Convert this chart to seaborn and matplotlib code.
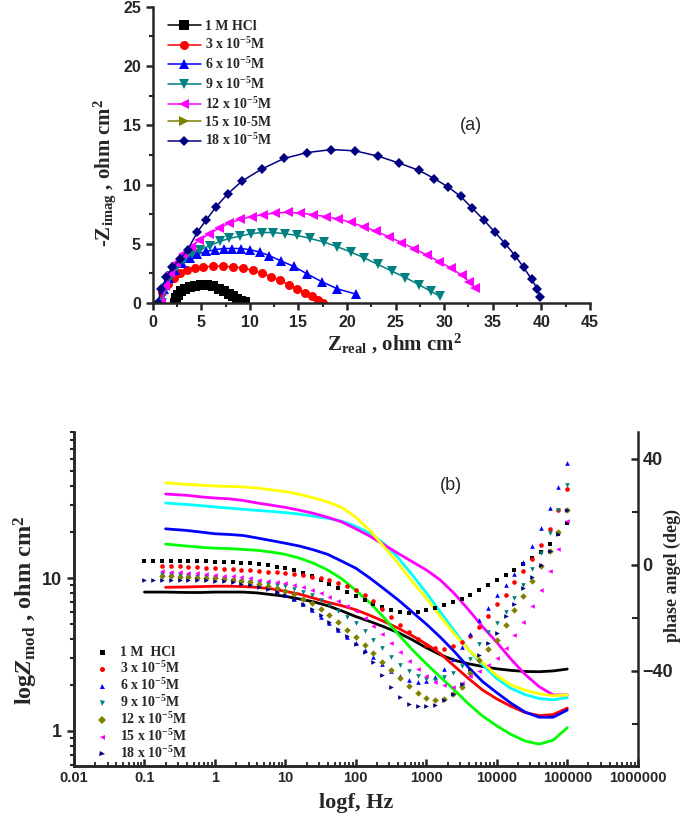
import matplotlib
matplotlib.use('Agg')
import matplotlib.pyplot as plt
import numpy as np
import pandas as pd
import seaborn as sns
from matplotlib.lines import Line2D
from matplotlib.ticker import MultipleLocator, FixedLocator, NullFormatter, LogLocator

nan = np.nan

# ---------- (a) Nyquist data (Zreal, -Zimag in ohm cm2) ----------
nyq_x_hcl = [2.3, 2.4, 2.6, 2.9, 3.3, 3.8, 4.4, 5.0, 5.6, 6.2, 6.8, 7.3, 7.8, 8.3, 8.7, 9.1, 9.5]
nyq_y_hcl = [0.0, 0.4, 0.7, 1.0, 1.2, 1.35, 1.45, 1.5, 1.48, 1.4, 1.2, 1.0, 0.8, 0.55, 0.35, 0.2, 0.08]

nyq_x_3 = [0.5, 1.0, 1.6, 2.2, 2.8, 3.5, 4.3, 5.2, 6.2, 7.2, 8.3, 9.3, 10.3, 11.3, 12.2, 13.1, 14.0, 14.9, 15.7, 16.4, 17.0, 17.5]
nyq_y_3 = [0.0, 0.9, 1.6, 2.1, 2.5, 2.75, 2.95, 3.05, 3.1, 3.1, 3.05, 2.95, 2.75, 2.5, 2.2, 1.9, 1.55, 1.2, 0.85, 0.55, 0.25, 0.0]

nyq_x_6 = [0.8, 1.2, 1.7, 2.3, 3.0, 3.8, 4.6, 5.5, 6.4, 7.3, 8.2, 9.1, 10.0, 11.0, 12.0, 13.2, 14.5, 15.9, 17.4, 19.0, 20.9]
nyq_y_6 = [0.0, 1.2, 2.1, 2.8, 3.4, 3.8, 4.1, 4.35, 4.5, 4.6, 4.6, 4.6, 4.5, 4.3, 4.0, 3.55, 3.1, 2.45, 1.8, 1.2, 0.75]

nyq_x_9 = [1.0, 1.4, 1.9, 2.5, 3.2, 4.0, 4.9, 5.9, 6.9, 7.9, 9.0, 10.1, 11.2, 12.4, 13.6, 14.9, 16.2, 17.6, 19.0, 20.4, 21.8, 23.2, 24.6, 26.0, 27.4, 28.6, 29.6]
nyq_y_9 = [0.0, 1.3, 2.3, 3.0, 3.6, 4.1, 4.5, 4.85, 5.2, 5.45, 5.65, 5.85, 5.95, 5.95, 5.85, 5.7, 5.45, 5.15, 4.75, 4.3, 3.8, 3.25, 2.7, 2.15, 1.55, 1.0, 0.55]

nyq_x_12 = [0.9, 1.3, 1.8, 2.4, 3.1, 3.9, 4.8, 5.8, 6.8, 7.9, 9.0, 10.2, 11.4, 12.6, 13.9, 15.2, 16.5, 17.8, 19.1, 20.4, 21.7, 23.0, 24.3, 25.6, 26.9, 28.2, 29.5, 30.7, 31.8, 32.6, 33.2]
nyq_y_12 = [0.0, 1.4, 2.5, 3.4, 4.1, 4.7, 5.3, 5.85, 6.3, 6.75, 7.05, 7.3, 7.45, 7.6, 7.65, 7.6, 7.45, 7.3, 7.1, 6.8, 6.45, 6.05, 5.6, 5.1, 4.6, 4.05, 3.5, 2.95, 2.35, 1.8, 1.25]

nyq_x_15 = []
nyq_y_15 = []

nyq_x_18 = [0.5, 0.9, 1.4, 2.0, 2.8, 3.6, 4.6, 5.5, 6.5, 7.7, 9.2, 11.2, 13.5, 15.9, 18.4, 20.8, 23.2, 25.4, 27.4, 29.0, 30.4, 31.7, 32.9, 34.1, 35.2, 36.3, 37.3, 38.2, 39.0, 39.6, 39.9]
nyq_y_18 = [0.0, 1.2, 2.2, 3.0, 3.7, 4.5, 6.0, 7.0, 8.1, 9.2, 10.3, 11.3, 12.2, 12.7, 12.95, 12.85, 12.4, 11.8, 11.2, 10.5, 9.8, 9.0, 8.0, 7.0, 6.0, 5.0, 4.0, 3.0, 2.0, 1.2, 0.5]

labels_a = ["1 M HCl", "3 x 10$^{-5}$M", "6 x 10$^{-5}$M", "9 x 10$^{-5}$M",
            "12 x 10$^{-5}$M", "15 x 10-5M", "18 x 10$^{-5}$M"]
labels_b = ["1 M  HCl", "3 x 10$^{-5}$M", "6 x 10$^{-5}$M", "9 x 10$^{-5}$M",
            "12 x 10$^{-5}$M", "15 x 10$^{-5}$M", "18 x 10$^{-5}$M"]

# ---------- (b) Bode data ----------
zmod_logf = [-1.0, -0.85, -0.7, -0.4, -0.2, 0.0, 0.2, 0.4, 0.6, 0.8, 1.0, 1.2, 1.4, 1.6, 1.8, 2.0,
             2.2, 2.4, 2.6, 2.8, 3.0, 3.2, 3.4, 3.6, 3.8, 4.0, 4.2, 4.4, 4.6, 4.8, 5.0]
zmod_black = [8.1, 8.1, 8.1, 8.05, 8.05, 8.1, 8.1, 8.1, 8.0, 7.8, 7.6, 7.3, 7.0, 6.6, 6.1, 5.6,
              5.2, 4.8, 4.4, 3.95, 3.5, 3.15, 2.9, 2.75, 2.64, 2.55, 2.49, 2.45, 2.44, 2.47, 2.54]
zmod_red = [nan, nan, 8.7, 8.75, 8.8, 8.85, 8.85, 8.8, 8.7, 8.5, 8.2, 7.85, 7.4, 6.95, 6.6, 6.2,
            5.7, 5.2, 4.7, 4.2, 3.7, 3.2, 2.65, 2.2, 1.85, 1.62, 1.45, 1.32, 1.26, 1.28, 1.41]
zmod_blue = [nan, nan, 21.0, 20.5, 20.0, 19.5, 19.3, 19.0, 18.3, 17.6, 16.9, 16.2, 15.3, 14.3, 12.9, 11.6,
             10.0, 8.5, 7.2, 6.0, 5.0, 4.1, 3.3, 2.6, 2.1, 1.78, 1.52, 1.33, 1.23, 1.23, 1.37]
zmod_green = [nan, nan, 16.7, 16.2, 15.9, 15.7, 15.6, 15.4, 15.2, 14.8, 14.3, 13.5, 12.5, 11.3, 9.9, 8.3,
              6.9, 5.5, 4.3, 3.4, 2.75, 2.25, 1.85, 1.5, 1.25, 1.08, 0.95, 0.86, 0.82, 0.87, 1.05]
zmod_cyan = [nan, nan, 31.0, 30.3, 29.8, 29.2, 28.7, 28.2, 27.7, 27.3, 26.8, 26.2, 25.4, 24.6, 23.6, 21.8,
             19.6, 16.8, 13.6, 10.5, 8.0, 6.0, 4.5, 3.4, 2.7, 2.2, 1.9, 1.73, 1.63, 1.6, 1.65]
zmod_magenta = [nan, nan, 35.5, 34.8, 34.0, 33.4, 33.0, 32.2, 31.0, 30.0, 29.0, 27.8, 26.5, 25.0, 23.3, 21.0,
                18.8, 16.5, 14.5, 12.8, 11.3, 9.7, 7.9, 6.2, 4.8, 3.8, 2.95, 2.35, 1.95, 1.72, 1.72]
zmod_yellow = [nan, nan, 42.0, 41.0, 40.5, 40.0, 39.8, 39.5, 38.8, 37.8, 36.8, 35.3, 33.5, 31.5, 29.0, 25.0,
               20.5, 16.0, 12.5, 9.5, 7.4, 5.6, 4.3, 3.4, 2.8, 2.3, 2.0, 1.85, 1.75, 1.7, 1.72]

phase_logf = [-1.0, -0.875, -0.75, -0.625, -0.5, -0.375, -0.25, -0.125, 0.0, 0.125, 0.25, 0.375, 0.5,
              0.625, 0.75, 0.875, 1.0, 1.125, 1.25, 1.375, 1.5, 1.625, 1.75, 1.875, 2.0, 2.125, 2.25,
              2.375, 2.5, 2.625, 2.75, 2.875, 3.0, 3.125, 3.25, 3.375, 3.5, 3.625, 3.75, 3.875, 4.0,
              4.125, 4.25, 4.375, 4.5, 4.625, 4.75, 4.875, 5.0]
phase_hcl = [1.5, 1.5, 1.5, 1.4, 1.4, 1.3, 1.3, 1.2, 1.1, 1.0, 0.9, 0.7, 0.5, 0.2, -0.2, -0.7, -1.3,
             -2.1, -3.1, -4.3, -5.7, -7.2, -8.8, -10.4, -12.0, -13.4, -14.8, -16.0, -17.0, -17.8, -18.2,
             -18.0, -17.3, -16.4, -15.3, -14.2, -13.0, -11.5, -9.6, -7.7, -5.8, -4.0, -2.0, 0.2, 2.5,
             4.9, 7.9, 11.5, 15.8]
phase_3 = [nan, nan, -0.4, -0.5, -0.6, -0.8, -0.9, -1.1, -1.3, -1.5, -1.7, -2.0, -2.2, -2.5, -2.7, -2.9,
           -3.1, -3.5, -4.0, -4.5, -5.1, -5.9, -6.9, -8.0, -9.4, -11.3, -13.8, -16.6, -19.7, -22.6, -25.5,
           -28.2, -30.3, -31.6, -32.0, -30.6, -29.2, -27.0, -23.5, -19.2, -15.0, -11.3, -6.5, -2.5, 2.0,
           7.5, 13.5, 20.8, 28.7]
phase_6 = [nan, nan, -3.1, -3.3, -3.5, -3.7, -3.9, -4.1, -4.4, -4.8, -5.3, -5.9, -6.6, -7.5, -8.6, -9.9,
           -11.3, -13.0, -15.0, -17.2, -19.6, -22.2, -24.8, -27.3, -29.6, -32.2, -35.0, -37.6, -40.0, -42.0,
           -43.5, -44.3, -44.0, -42.5, -39.5, -35.5, -31.0, -26.0, -21.0, -16.5, -11.5, -7.5, -3.5, 1.0,
           7.0, 13.8, 21.5, 29.5, 38.4]
phase_9 = [nan, nan, -3.4, -3.6, -3.9, -4.2, -4.5, -4.8, -5.0, -5.3, -5.6, -6.0, -6.4, -6.9, -7.4, -7.8,
           -8.2, -9.0, -10.2, -11.6, -13.3, -15.3, -17.5, -19.8, -22.0, -25.0, -28.3, -31.6, -34.8, -37.8,
           -40.3, -42.0, -43.2, -43.4, -42.5, -40.8, -38.3, -35.5, -30.0, -25.5, -22.0, -18.0, -12.5, -7.5,
           -1.6, 4.5, 12.0, 20.5, 30.0]
phase_12 = [nan, nan, -4.2, -4.4, -4.6, -4.8, -5.0, -5.1, -5.2, -5.4, -5.7, -6.1, -6.6, -7.2, -7.9, -8.8,
            -9.8, -11.2, -12.8, -14.6, -16.7, -19.0, -21.7, -24.5, -27.3, -30.3, -33.5, -36.7, -39.7, -42.6,
            -45.8, -48.6, -50.3, -51.0, -50.6, -48.8, -46.2, -41.0, -36.0, -32.0, -28.3, -22.8, -17.0,
            -11.7, -6.3, -0.6, 5.0, 12.5, 20.5]
phase_15 = [nan, nan, -2.5, -2.7, -2.9, -3.1, -3.3, -3.5, -3.8, -4.1, -4.4, -4.8, -5.2, -5.6, -6.0, -6.5,
            -7.0, -7.7, -8.5, -9.5, -10.7, -12.2, -13.8, -15.6, -17.5, -20.0, -23.0, -26.2, -29.6, -33.0,
            -36.3, -39.3, -42.0, -44.2, -45.6, -46.0, -44.5, -42.0, -40.0, -38.0, -35.2, -31.5, -26.5,
            -21.5, -15.5, -9.5, -2.5, 6.0, 16.4]
phase_18 = [-5.9, -5.8, -5.7, -5.6, -5.6, -5.6, -5.7, -5.8, -6.0, -6.3, -6.7, -7.2, -7.8, -8.5, -9.3,
            -10.3, -11.5, -13.0, -14.8, -16.8, -19.0, -21.5, -24.2, -27.0, -29.8, -33.0, -36.8, -41.5,
            -46.0, -50.0, -52.5, -53.5, -53.5, -52.8, -51.0, -48.8, -45.0, -39.5, -34.0, -29.5, -25.7,
            -19.5, -15.0, -8.8, -4.5, 0.0, 5.0, 11.5, 20.7]

freq_ticks = [0.01, 0.1, 1, 10, 100, 1000, 10000, 100000, 1000000]
freq_ticklabels = ["0.01", "0.1", "1", "10", "100", "1000", "10000", "100000", "1000000"]

colors_a = ['black', 'red', 'blue', '#008080', '#ff00ff', '#808000', '#000080']
markers_a = ['s', 'o', '^', 'v', '<', '>', 'D']
zmod_colors = ['black', 'red', 'blue', '#00ff00', '#00ffff', '#ff00ff', '#ffff00']

sns.set_style('ticks')
plt.rcParams['font.family'] = ['Liberation Sans', 'DejaVu Sans']
plt.rcParams['font.weight'] = 'bold'
plt.rcParams['mathtext.fontset'] = 'custom'
plt.rcParams['mathtext.rm'] = 'Liberation Serif:bold'
plt.rcParams['mathtext.it'] = 'Liberation Serif:bold:italic'
plt.rcParams['mathtext.bf'] = 'Liberation Serif:bold'

serif = dict(family='Liberation Serif', weight='bold')

fig = plt.figure(figsize=(6.85, 8.18), dpi=100)

# ================= (a) =================
ax1 = fig.add_axes([0.223, 0.6296, 0.638, 0.362])
nyq = [(nyq_x_hcl, nyq_y_hcl), (nyq_x_3, nyq_y_3), (nyq_x_6, nyq_y_6), (nyq_x_9, nyq_y_9),
       (nyq_x_12, nyq_y_12), (nyq_x_15, nyq_y_15), (nyq_x_18, nyq_y_18)]
for (xs, ys), c, m in zip(nyq, colors_a, markers_a):
    if len(xs) == 0:
        continue
    ms = 5.5 if m == 'D' else 6.5
    sns.lineplot(x=xs, y=ys, ax=ax1, color=c, marker=m, markersize=ms, markeredgewidth=0,
                 linewidth=1.1, sort=False, estimator=None, legend=False)

ax1.set_xlim(0, 45)
ax1.set_ylim(0, 25)
ax1.xaxis.set_major_locator(MultipleLocator(5))
ax1.yaxis.set_major_locator(MultipleLocator(5))
ax1.xaxis.set_minor_locator(MultipleLocator(2.5))
ax1.yaxis.set_minor_locator(MultipleLocator(2.5))
ax1.tick_params(which='major', direction='out', length=5, width=1.8, labelsize=11.5)
ax1.tick_params(which='minor', direction='out', length=3, width=1.5)
for s in ['top', 'right']:
    ax1.spines[s].set_visible(False)
for s in ['left', 'bottom']:
    ax1.spines[s].set_linewidth(1.8)

ax1.set_xlabel(r'Z$_{\rm real}$ , ohm cm$^{\rm 2}$', fontdict=serif, fontsize=15)
ax1.xaxis.set_label_coords(0.554, -0.098)
ax1.set_ylabel(r'-Z$_{\rm imag}$ , ohm cm$^{\rm 2}$', fontdict=serif, fontsize=15)
ax1.yaxis.set_label_coords(-0.08, 0.44)
ax1.text(32.8, 15, '(a)', fontsize=13, fontweight='normal', ha='center', va='center')

handles_a = [Line2D([], [], color=c, marker=m, markersize=(5.5 if m == 'D' else 6.5),
                    markeredgewidth=0, linewidth=1.1) for c, m in zip(colors_a, markers_a)]
ax1.legend(handles_a, labels_a, loc='upper left', bbox_to_anchor=(0.015, 0.985), frameon=False,
           prop=dict(family='Liberation Serif', weight='bold', size=10), handlelength=2.4,
           labelspacing=0.28, handletextpad=0.3, borderaxespad=0.2, numpoints=1)

# ================= (b) =================
ax2 = fig.add_axes([0.108, 0.0636, 0.823, 0.408])
ax2.set_xscale('log')
ax2.set_yscale('log')
ax3 = ax2.twinx()

zmod_f = [10 ** v for v in zmod_logf]
for zs, c in zip([zmod_black, zmod_red, zmod_blue, zmod_green, zmod_cyan, zmod_magenta, zmod_yellow],
                 zmod_colors):
    d = pd.DataFrame({'f': zmod_f, 'z': zs}).dropna()
    sns.lineplot(data=d, x='f', y='z', ax=ax2, color=c, linewidth=2.0, sort=False,
                 estimator=None, legend=False)

phase_f = [10 ** v for v in phase_logf]
markers_b = ['s', 'o', '^', 'v', 'D', '<', '>']
colors_b = ['black', 'red', 'blue', '#008080', '#808000', '#ff00ff', '#000080']
for ps, c, m in zip([phase_hcl, phase_3, phase_6, phase_9, phase_12, phase_15, phase_18],
                    colors_b, markers_b):
    d = pd.DataFrame({'f': phase_f, 'p': ps}).dropna()
    sns.scatterplot(data=d, x='f', y='p', ax=ax3, color=c, marker=m, s=11, linewidth=0, legend=False)

ax2.set_xlim(0.01, 1e6)
ax2.set_ylim(0.59, 90)
ax2.set_xticks(freq_ticks)
ax2.set_xticklabels(freq_ticklabels)
ax2.xaxis.set_minor_locator(LogLocator(base=10, subs=np.arange(2, 10), numticks=20))
ax2.xaxis.set_minor_formatter(NullFormatter())
ax2.set_yticks([1, 10])
ax2.set_yticklabels(['1', '10'])
ax2.yaxis.set_minor_locator(LogLocator(base=10, subs=np.arange(2, 10), numticks=20))
ax2.yaxis.set_minor_formatter(NullFormatter())
ax2.tick_params(axis='x', which='major', direction='in', length=5, width=1.8, labelsize=10.5)
ax2.tick_params(axis='x', which='minor', direction='in', length=3, width=1.3)
ax2.tick_params(axis='y', which='major', direction='out', length=5, width=1.8, labelsize=13)
ax2.tick_params(axis='y', which='minor', direction='out', length=3, width=1.5)

ax3.set_ylim(-76, 50)
ax3.set_yticks([-40, 0, 40])
ax3.yaxis.set_minor_locator(FixedLocator([-60, -20, 20]))
ax3.tick_params(axis='y', which='major', direction='in', length=5, width=1.8, labelsize=13)
ax3.tick_params(axis='y', which='minor', direction='in', length=4, width=1.5)

for a in [ax2, ax3]:
    a.spines['top'].set_visible(False)
    for s in ['left', 'bottom', 'right']:
        a.spines[s].set_linewidth(1.8)
ax2.spines['right'].set_visible(False)

ax2.set_xlabel('logf, Hz', fontdict=serif, fontsize=16, labelpad=6)
ax2.set_ylabel(r'log$Z_{\rm mod}$ , ohm cm$^{\rm 2}$', fontdict=serif, fontsize=17.5)
ax2.yaxis.set_label_coords(-0.06, 0.467)
ax3.set_ylabel('phase angel (deg)', fontdict=serif, fontsize=13, rotation=90)
ax3.yaxis.set_label_coords(1.046, 0.57)
ax3.text(0.668, 0.84, '(b)', transform=ax3.transAxes, fontsize=13, fontweight='normal',
         ha='center', va='center')

handles_b = [Line2D([], [], linestyle='none', color=c, marker=m, markersize=3.6, markeredgewidth=0)
             for c, m in zip(colors_b, markers_b)]
ax3.legend(handles_b, labels_b, loc='upper left', bbox_to_anchor=(0.028, 0.375), frameon=False,
           prop=dict(family='Liberation Serif', weight='bold', size=10), handlelength=1.0,
           labelspacing=0.08, handletextpad=0.8, borderaxespad=0.0)

fig.savefig('out.png', dpi=100)
